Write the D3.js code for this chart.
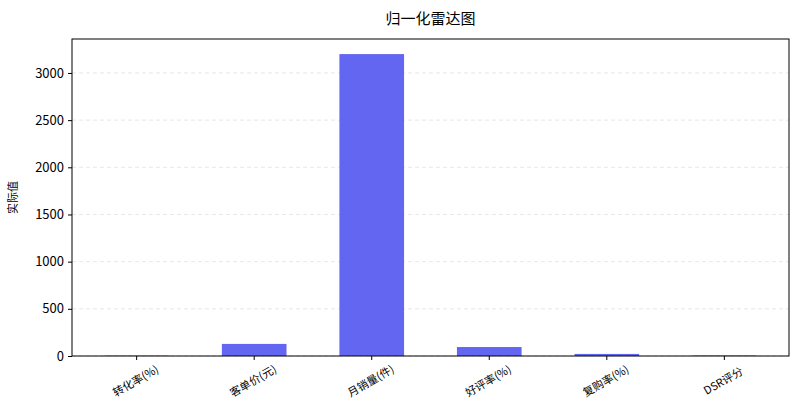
<!DOCTYPE html>
<html><head><meta charset="utf-8">
<script src="https://cdn.jsdelivr.net/npm/d3@7"></script>
<style>body{margin:0;background:#fff}svg{display:block}text{font-family:"Noto Sans CJK SC","Noto Sans",sans-serif;fill:#000}</style>
</head><body>
<svg id="c" width="800" height="413"></svg>
<script>
const categories = ["转化率(%)","客单价(元)","月销量(件)","好评率(%)","复购率(%)","DSR评分"];
const values = [3.5, 128, 3200, 95, 22, 4.8];
const yTicks = [0,500,1000,1500,2000,2500,3000];
const title = "归一化雷达图";
const yLabel = "实际值";

const W=800,H=413, m={l:72,r:11,t:39,b:57};
const svg=d3.select("#c");
const iw=W-m.l-m.r, ih=H-m.t-m.b;
const g=svg.append("g").attr("transform",`translate(${m.l},${m.t})`);
const x=d3.scaleBand().domain(categories).range([0,iw]).paddingInner(0.45).paddingOuter(0.275);
const y=d3.scaleLinear().domain([0,d3.max(values)*1.05]).range([ih,0]);

g.selectAll(".grid").data(yTicks).join("line")
 .attr("x1",0).attr("x2",iw).attr("y1",d=>y(d)).attr("y2",d=>y(d))
 .attr("stroke","#cccccc").attr("stroke-opacity",0.6).attr("stroke-dasharray","4,3").attr("stroke-width",0.8);

g.selectAll(".bar").data(values).join("rect")
 .attr("x",(d,i)=>x(categories[i])).attr("width",x.bandwidth())
 .attr("y",d=>y(d)).attr("height",d=>ih-y(d))
 .attr("fill","#6366f1");

const ya=g.append("g").call(d3.axisLeft(y).tickValues(yTicks).tickFormat(d3.format("d")).tickSize(4).tickPadding(4));
ya.selectAll("text").style("font-size","13px").style("font-family","'Noto Sans CJK SC',sans-serif");
ya.select(".domain").remove();
ya.selectAll("line").attr("stroke","#000");

const xa=g.append("g").attr("transform",`translate(0,${ih})`).call(d3.axisBottom(x).tickSize(4));
xa.select(".domain").remove();
xa.selectAll("line").attr("stroke","#000");
xa.selectAll("text").style("font-size","11px").attr("text-anchor","middle")
 .attr("dy","0.35em").attr("y",0)
 .attr("transform","translate(-1,25) rotate(-30)");

g.append("rect").attr("width",iw).attr("height",ih).attr("fill","none").attr("stroke","#000").attr("stroke-width",1);

svg.append("text").attr("x",m.l+iw/2).attr("y",24).attr("text-anchor","middle").style("font-size","15px").text(title);
svg.append("text").attr("transform",`translate(17,${m.t+ih/2}) rotate(-90)`).attr("text-anchor","middle").style("font-size","11px").text(yLabel);
</script>
</body></html>
